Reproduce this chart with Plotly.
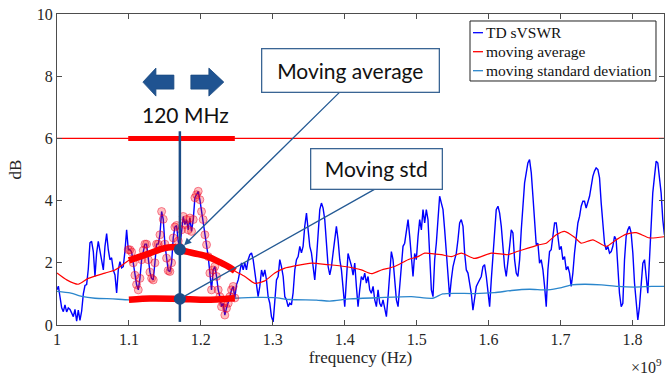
import numpy as np
import plotly.graph_objects as go

# TD sVSWR (frequency in GHz, shown as Hz x 1e9)
freq_ghz = [
    1.0000, 1.0019, 1.0042, 1.0065, 1.0088, 1.0111, 1.0134, 1.0157, 1.0181, 1.0204,
    1.0227, 1.0250, 1.0273, 1.0296, 1.0319, 1.0343, 1.0366, 1.0389, 1.0412, 1.0435,
    1.0458, 1.0481, 1.0505, 1.0528, 1.0551, 1.0574, 1.0597, 1.0620, 1.0644, 1.0667,
    1.0690, 1.0713, 1.0736, 1.0759, 1.0782, 1.0806, 1.0829, 1.0852, 1.0875, 1.0898,
    1.0921, 1.0944, 1.0968, 1.0991, 1.1014, 1.1037, 1.1060, 1.1083, 1.1106, 1.1130,
    1.1153, 1.1176, 1.1199, 1.1222, 1.1245, 1.1269, 1.1292, 1.1315, 1.1338, 1.1361,
    1.1384, 1.1407, 1.1431, 1.1454, 1.1477, 1.1500, 1.1523, 1.1546, 1.1569, 1.1593,
    1.1616, 1.1639, 1.1662, 1.1685, 1.1708, 1.1731, 1.1755, 1.1778, 1.1801, 1.1824,
    1.1847, 1.1870, 1.1894, 1.1917, 1.1940, 1.1963, 1.1986, 1.2009, 1.2032, 1.2056,
    1.2079, 1.2102, 1.2125, 1.2148, 1.2171, 1.2194, 1.2218, 1.2241, 1.2264, 1.2287,
    1.2310, 1.2333, 1.2356, 1.2380, 1.2403, 1.2426, 1.2449, 1.2472, 1.2495, 1.2519,
    1.2542, 1.2565, 1.2588, 1.2611, 1.2634, 1.2657, 1.2681, 1.2704, 1.2727, 1.2750,
    1.2773, 1.2796, 1.2819, 1.2843, 1.2866, 1.2889, 1.2912, 1.2935, 1.2958, 1.2981,
    1.3005, 1.3028, 1.3051, 1.3074, 1.3097, 1.3120, 1.3144, 1.3167, 1.3190, 1.3213,
    1.3236, 1.3259, 1.3282, 1.3306, 1.3329, 1.3352, 1.3375, 1.3398, 1.3421, 1.3444,
    1.3468, 1.3491, 1.3514, 1.3537, 1.3560, 1.3583, 1.3606, 1.3630, 1.3653, 1.3676,
    1.3699, 1.3722, 1.3745, 1.3769, 1.3792, 1.3815, 1.3838, 1.3861, 1.3884, 1.3907,
    1.3931, 1.3954, 1.3977, 1.4000, 1.4023, 1.4046, 1.4069, 1.4093, 1.4116, 1.4139,
    1.4162, 1.4185, 1.4208, 1.4231, 1.4255, 1.4278, 1.4301, 1.4324, 1.4347, 1.4370,
    1.4394, 1.4417, 1.4440, 1.4463, 1.4486, 1.4509, 1.4532, 1.4556, 1.4579, 1.4602,
    1.4625, 1.4648, 1.4671, 1.4694, 1.4718, 1.4741, 1.4764, 1.4787, 1.4810, 1.4833,
    1.4856, 1.4880, 1.4903, 1.4926, 1.4949, 1.4972, 1.4995, 1.5019, 1.5042, 1.5065,
    1.5088, 1.5111, 1.5134, 1.5157, 1.5181, 1.5204, 1.5227, 1.5250, 1.5273, 1.5296,
    1.5319, 1.5343, 1.5366, 1.5389, 1.5412, 1.5435, 1.5458, 1.5481, 1.5505, 1.5528,
    1.5551, 1.5574, 1.5597, 1.5620, 1.5644, 1.5667, 1.5690, 1.5713, 1.5736, 1.5759,
    1.5782, 1.5806, 1.5829, 1.5852, 1.5875, 1.5898, 1.5921, 1.5944, 1.5968, 1.5991,
    1.6014, 1.6037, 1.6060, 1.6083, 1.6106, 1.6130, 1.6153, 1.6176, 1.6199, 1.6222,
    1.6245, 1.6269, 1.6292, 1.6315, 1.6338, 1.6361, 1.6384, 1.6407, 1.6431, 1.6454,
    1.6477, 1.6500, 1.6523, 1.6546, 1.6569, 1.6593, 1.6616, 1.6639, 1.6662, 1.6685,
    1.6708, 1.6731, 1.6755, 1.6778, 1.6801, 1.6824, 1.6847, 1.6870, 1.6894, 1.6917,
    1.6940, 1.6963, 1.6986, 1.7009, 1.7032, 1.7056, 1.7079, 1.7102, 1.7125, 1.7148,
    1.7171, 1.7194, 1.7218, 1.7241, 1.7264, 1.7287, 1.7310, 1.7333, 1.7356, 1.7380,
    1.7403, 1.7426, 1.7449, 1.7472, 1.7495, 1.7519, 1.7542, 1.7565, 1.7588, 1.7611,
    1.7634, 1.7657, 1.7681, 1.7704, 1.7727, 1.7750, 1.7773, 1.7796, 1.7819, 1.7843,
    1.7866, 1.7889, 1.7912, 1.7935, 1.7958, 1.7981, 1.8005, 1.8028, 1.8051, 1.8074,
    1.8097, 1.8120, 1.8144, 1.8167, 1.8190, 1.8213, 1.8236, 1.8259, 1.8282, 1.8306,
    1.8329, 1.8352, 1.8375, 1.8398, 1.8421, 1.8444,
]
svswr_db = [
    1.13, 1.25, 0.90, 0.55, 0.43, 0.65, 0.42, 0.55, 0.50, 0.38,
    0.27, 0.50, 0.12, 0.48, 0.15, 0.45, 1.00, 1.27, 1.30, 1.80,
    2.64, 2.69, 2.36, 1.56, 2.32, 2.69, 2.36, 2.16, 1.77, 2.53,
    2.94, 2.42, 2.10, 2.16, 1.77, 1.61, 1.03, 1.77, 2.04, 1.84,
    1.88, 2.36, 3.06, 2.42, 2.42, 2.35, 2.00, 1.60, 1.30, 1.13,
    1.50, 2.10, 2.40, 2.60, 2.60, 2.10, 1.70, 1.50, 1.45, 2.00,
    2.60, 2.60, 2.90, 3.65, 3.40, 2.60, 2.15, 1.75, 1.72, 2.00,
    2.80, 3.15, 3.20, 2.70, 2.50, 3.06, 3.49, 3.23, 3.39, 3.06,
    3.44, 3.01, 3.39, 4.09, 4.19, 4.30, 4.03, 3.65, 3.39, 2.90,
    2.58, 2.20, 1.67, 1.13, 1.77, 1.88, 1.56, 1.13, 0.91, 0.59,
    0.70, 0.32, 0.54, 0.70, 0.91, 1.13, 1.24, 0.87, 1.29, 1.45,
    1.77, 2.00, 1.77, 2.00, 1.77, 2.10, 2.26, 2.32, 2.10, 1.67,
    1.35, 0.91, 1.24, 1.77, 1.56, 1.77, 1.45, 0.91, 0.70, 0.27,
    0.10, 0.70, 1.45, 1.56, 2.10, 1.88, 1.56, 0.91, 0.81, 0.59,
    0.70, 0.65, 1.03, 1.77, 2.10, 2.20, 2.53, 2.32, 2.53, 3.17,
    3.60, 3.06, 2.53, 2.32, 1.88, 1.45, 2.10, 3.06, 3.71, 3.92,
    3.76, 3.39, 2.53, 1.88, 1.61, 1.88, 2.32, 2.85, 3.17, 2.74,
    2.10, 1.77, 1.02, 0.59, 1.45, 2.30, 2.10, 1.90, 1.60, 1.99,
    1.24, 0.59, 1.13, 1.56, 1.45, 1.67, 1.35, 1.56, 1.13, 1.02,
    1.24, 0.81, 0.59, 1.13, 0.70, 0.59, 0.81, 0.48, 0.27, 0.91,
    1.77, 2.36, 2.10, 1.45, 0.81, 0.59, 1.24, 2.10, 2.53, 2.63,
    3.06, 3.39, 2.85, 2.10, 1.56, 2.30, 2.10, 2.85, 3.39, 3.06,
    3.71, 3.28, 3.71, 3.39, 2.10, 1.13, 0.91, 2.10, 2.63, 3.60,
    4.14, 3.92, 3.71, 3.06, 2.31, 1.56, 0.91, 1.45, 1.88, 2.10,
    2.31, 2.74, 3.28, 3.39, 3.17, 2.31, 1.77, 1.67, 1.35, 1.02,
    0.48, 0.81, 1.24, 1.35, 1.45, 1.56, 1.88, 1.94, 1.56, 1.02,
    0.59, 1.45, 2.31, 3.17, 3.71, 3.82, 3.60, 3.17, 2.53, 1.88,
    1.56, 1.99, 2.53, 3.06, 2.96, 2.10, 1.67, 1.56, 2.10, 3.06,
    4.03, 4.57, 4.89, 5.21, 5.32, 4.89, 4.14, 3.28, 2.58, 2.63,
    1.99, 2.10, 1.77, 1.24, 0.59, 1.77, 2.36, 2.42, 2.85, 3.28,
    3.28, 2.85, 2.42, 2.53, 2.10, 2.20, 1.77, 1.88, 1.67, 1.24,
    1.67, 2.31, 2.85, 3.28, 3.49, 3.82, 3.98, 3.98, 3.76, 3.92,
    4.14, 4.46, 4.78, 4.95, 5.05, 5.00, 4.73, 3.92, 3.17, 2.63,
    2.42, 2.53, 2.31, 2.36, 2.53, 2.85, 2.74, 1.99, 1.02, 0.59,
    0.70, 2.10, 2.85, 3.06, 3.17, 2.96, 2.31, 1.35, 0.59, 0.16,
    0.59, 1.45, 1.99, 2.10, 1.56, 1.02, 2.10, 3.39, 4.25, 4.78,
    5.27, 5.21, 4.78, 4.25, 3.39, 2.90,
]

# moving average
avg_freq_ghz = [1.0000, 1.0135, 1.0296, 1.0435, 1.0667, 1.0806, 1.0944, 1.1000, 1.1153, 1.1319,
                1.1458, 1.1639, 1.1736, 1.1917, 1.2097, 1.2264, 1.2403, 1.2472, 1.2611, 1.2750,
                1.2889, 1.3028, 1.3167, 1.3306, 1.3537, 1.3768, 1.4000, 1.4232, 1.4371, 1.4510,
                1.4694, 1.4879, 1.5018, 1.5111, 1.5343, 1.5482, 1.5621, 1.5806, 1.6038, 1.6268,
                1.6407, 1.6546, 1.6685, 1.6801, 1.6940, 1.7056, 1.7194, 1.7288, 1.7449, 1.7635,
                1.7774, 1.7913, 1.8051, 1.8236, 1.8444]
avg_db = [1.67, 1.45, 1.31, 1.50, 1.67, 1.77, 1.99, 2.08, 2.20, 2.33,
          2.45, 2.50, 2.40, 2.30, 2.20, 2.02, 1.85, 1.74, 1.56, 1.34,
          1.42, 1.67, 1.83, 1.90, 1.99, 1.94, 1.88, 1.77, 1.65, 1.77,
          1.88, 2.10, 2.20, 2.31, 2.26, 2.20, 2.31, 2.14, 2.31, 2.26,
          2.37, 2.47, 2.57, 2.63, 2.90, 3.01, 2.82, 2.63, 2.74, 2.53,
          2.74, 2.92, 2.97, 2.80, 2.84]

# moving standard deviation
std_freq_ghz = [1.0000, 1.0181, 1.0343, 1.0528, 1.0778, 1.1000, 1.1292, 1.1708, 1.2083, 1.2472,
                1.2792, 1.3028, 1.3236, 1.3607, 1.3792, 1.4069, 1.4486, 1.4926, 1.5222, 1.5361,
                1.5528, 1.5806, 1.6083, 1.6319, 1.6569, 1.6819, 1.7014, 1.7153, 1.7333, 1.7569,
                1.7792, 1.8028, 1.8264, 1.8444]
std_db = [1.08, 1.03, 0.92, 0.86, 0.84, 0.81, 0.85, 0.84, 0.81, 0.86,
          0.89, 0.88, 0.82, 0.80, 0.77, 0.84, 0.88, 0.91, 0.86, 1.00,
          1.02, 1.01, 1.04, 1.11, 1.15, 1.13, 1.20, 1.29, 1.31, 1.29,
          1.24, 1.22, 1.24, 1.24]

legend_names = ['TD sVSWR', 'moving average', 'moving standard deviation']

threshold_db = 6
win_lo, win_hi = 1.099, 1.2472      # highlighted 120 MHz window
win_center = 1.1708

BLUE = '#0000ff'
RED = '#ff0000'
STD_BLUE = '#2a86cc'
NAVY = '#1b4c86'
AXIS = '#4d4d4d'
SERIF = 'Liberation Serif'
SANS = 'Lato'

fig = go.Figure()

fig.add_trace(go.Scatter(x=freq_ghz, y=svswr_db, mode='lines', name=legend_names[0],
                         line=dict(color=BLUE, width=1.4)))
fig.add_trace(go.Scatter(x=avg_freq_ghz, y=avg_db, mode='lines', name=legend_names[1],
                         line=dict(color=RED, width=1.2, shape='spline', smoothing=0.6)))
fig.add_trace(go.Scatter(x=std_freq_ghz, y=std_db, mode='lines', name=legend_names[2],
                         line=dict(color=STD_BLUE, width=1.3, shape='spline', smoothing=0.6)))

# highlighted window
win_pts = [(f, v) for f, v in zip(freq_ghz, svswr_db) if win_lo <= f <= win_hi]
fig.add_trace(go.Scatter(x=[p[0] for p in win_pts], y=[p[1] for p in win_pts], mode='markers',
                         marker=dict(size=8, color='rgba(255,0,0,0.25)',
                                     line=dict(color='rgba(235,0,40,0.45)', width=1))))
for fx, fy in ((avg_freq_ghz, avg_db), (std_freq_ghz, std_db)):
    sel = [(f, v) for f, v in zip(fx, fy) if win_lo <= f <= win_hi]
    fig.add_trace(go.Scatter(x=[p[0] for p in sel], y=[p[1] for p in sel], mode='lines',
                             line=dict(color=RED, width=6.5, shape='spline', smoothing=0.6)))
fig.add_trace(go.Scatter(x=[win_lo, win_hi], y=[threshold_db, threshold_db], mode='lines',
                         line=dict(color=RED, width=5)))

# window centre line and the two dots
fig.add_trace(go.Scatter(x=[win_center, win_center], y=[0.1, 6.23], mode='lines',
                         line=dict(color=NAVY, width=2.5)))
avg_c = float(np.interp(win_center, avg_freq_ghz, avg_db))
std_c = float(np.interp(win_center, std_freq_ghz, std_db))
fig.add_trace(go.Scatter(x=[win_center, win_center], y=[avg_c, std_c], mode='markers',
                         marker=dict(size=12, color=NAVY)))

# thin threshold line
shapes = [dict(type='line', xref='paper', x0=0, x1=1, yref='y', y0=threshold_db, y1=threshold_db,
               line=dict(color=RED, width=1.2), layer='below')]


def block_arrow(tip, back, tail, yc, head_h=0.45, body_h=0.225):
    p = (f'M {tip},{yc} L {back},{yc + head_h} L {back},{yc + body_h} '
         f'L {tail},{yc + body_h} L {tail},{yc - body_h} L {back},{yc - body_h} '
         f'L {back},{yc - head_h} Z')
    return dict(type='path', path=p, xref='x', yref='y', fillcolor='#1f5391',
                line=dict(color='#1a4a82', width=0.8))


shapes.append(block_arrow(1.1194, 1.1375, 1.1625, 7.81))
shapes.append(block_arrow(1.2319, 1.2111, 1.1861, 7.81))

annotations = [
    dict(x=1.1792, y=6.76, xref='x', yref='y', text='120 MHz', showarrow=False,
         font=dict(family=SANS, size=21, color='#111')),
    # arrows
    dict(x=win_center, y=avg_c, ax=1.3944, ay=7.52, xref='x', yref='y', axref='x', ayref='y',
         text='', showarrow=True, arrowhead=2, arrowsize=1.1, arrowwidth=1.3,
         arrowcolor='#245a94', standoff=6),
    dict(x=win_center, y=std_c, ax=1.4458, ay=4.42, xref='x', yref='y', axref='x', ayref='y',
         text='', showarrow=True, arrowhead=0, arrowwidth=1.3, arrowcolor='#245a94', standoff=4),
    # text boxes
    dict(x=1.4083, y=8.18, xref='x', yref='y', text='Moving average', showarrow=False,
         font=dict(family=SANS, size=21, color='#111'), bgcolor='white',
         bordercolor='#3a6594', borderwidth=1.3, borderpad=3, width=170, height=36),
    dict(x=1.4438, y=5.03, xref='x', yref='y', text='Moving std', showarrow=False,
         font=dict(family=SANS, size=21, color='#111'), bgcolor='white',
         bordercolor='#3a6594', borderwidth=1.3, borderpad=3, width=124, height=33),
    dict(x=1.0, y=-0.092, xref='paper', yref='paper', xanchor='right', yanchor='top',
         text='×10<sup>9</sup>', showarrow=False,
         font=dict(family=SERIF, size=16, color='#262626')),
]

# MATLAB-style legend box with short line samples (top right, in paper units)
shapes.append(dict(type='rect', xref='paper', yref='paper', x0=0.6804, x1=0.9868,
                   y0=0.7846, y1=0.9775, fillcolor='white', line=dict(color='#222', width=1)))
for name, col, yrow in zip(legend_names, (BLUE, RED, STD_BLUE), (0.9399, 0.8788, 0.8177)):
    shapes.append(dict(type='line', xref='paper', yref='paper', x0=0.6853, x1=0.7018,
                       y0=yrow, y1=yrow, line=dict(color=col, width=1.3)))
    annotations.append(dict(x=0.7035, y=yrow, xref='paper', yref='paper', xanchor='left',
                            yanchor='middle', text=name, showarrow=False,
                            font=dict(family=SERIF, size=15.5, color='#111')))

axis_common = dict(ticks='inside', ticklen=5, tickcolor=AXIS, showline=True, linecolor=AXIS,
                   linewidth=1, mirror='allticks', showgrid=False, zeroline=False,
                   tickfont=dict(family=SERIF, size=16, color='#262626'))

fig.update_layout(
    width=665, height=375,
    margin=dict(l=57, r=1, t=14, b=50),
    paper_bgcolor='white', plot_bgcolor='white',
    showlegend=False,
    xaxis=dict(range=[1, 1.8438], tick0=1, dtick=0.1,
               title=dict(text='frequency (Hz)', standoff=2,
                          font=dict(family=SERIF, size=17, color='#262626')),
               **axis_common),
    yaxis=dict(range=[0, 10], tick0=0, dtick=2,
               title=dict(text='dB', standoff=10,
                          font=dict(family=SERIF, size=17, color='#262626')),
               **axis_common),
    shapes=shapes,
    annotations=annotations,
)

fig.write_html("out.html", config={'displayModeBar': False},
               post_script="document.body.style.margin='0';document.body.style.padding='0';")
